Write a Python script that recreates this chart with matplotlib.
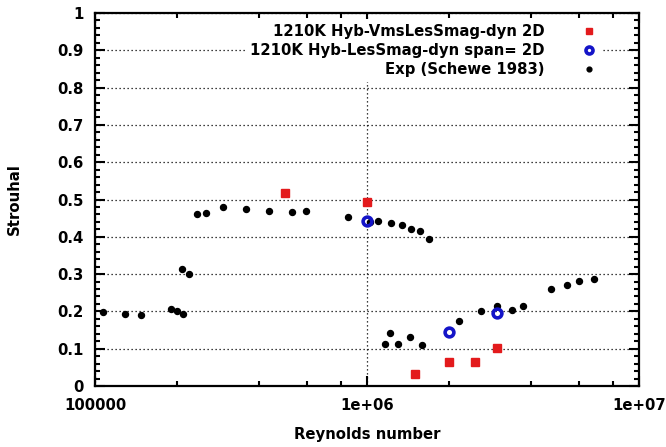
import numpy as np
import matplotlib
matplotlib.use('Agg')
import matplotlib.pyplot as plt
import matplotlib.ticker as plticker

# Strouhal number vs Reynolds number, 2D simulations against Schewe (1983)
vms_re = [5e5, 1e6, 1.5e6, 2e6, 2.5e6, 3e6]
vms_st = [0.518, 0.494, 0.032, 0.064, 0.064, 0.103]

les_re = [1e6, 2e6, 3e6]
les_st = [0.443, 0.146, 0.195]

exp_re = [1.07e5, 1.29e5, 1.48e5, 1.90e5, 2.01e5, 2.11e5, 2.09e5, 2.21e5,
          2.38e5, 2.56e5, 2.95e5, 3.58e5, 4.37e5, 5.28e5, 5.97e5, 8.54e5,
          1.03e6, 1.10e6, 1.23e6, 1.34e6, 1.45e6, 1.56e6, 1.69e6,
          1.16e6, 1.22e6, 1.30e6, 1.44e6, 1.59e6, 2.18e6, 2.62e6, 3.0e6,
          3.42e6, 3.76e6, 4.73e6, 5.45e6, 6.04e6, 6.84e6]
exp_st = [0.199, 0.193, 0.191, 0.206, 0.200, 0.192, 0.315, 0.300,
          0.461, 0.465, 0.481, 0.474, 0.469, 0.467, 0.469, 0.454,
          0.441, 0.443, 0.436, 0.431, 0.420, 0.416, 0.393,
          0.112, 0.141, 0.112, 0.132, 0.109, 0.175, 0.201, 0.214,
          0.204, 0.214, 0.259, 0.271, 0.281, 0.286]

labels = ["1210K Hyb-VmsLesSmag-dyn 2D",
          "1210K Hyb-LesSmag-dyn span= 2D",
          "Exp (Schewe 1983)"]

plt.rcParams['font.family'] = ['DejaVu Sans']
plt.rcParams['font.weight'] = 'bold'
plt.rcParams['axes.labelweight'] = 'bold'
plt.rcParams['font.size'] = 10.7

fig = plt.figure(figsize=(6.66, 4.47), dpi=100)
ax = fig.add_axes([95/666, 61/447, 544/666, 373/447])

ax.plot(vms_re, vms_st, ls='none', marker='s', ms=5.6, color='#e31a1c',
        mec='#e31a1c', label=labels[0], zorder=3)
ax.plot(les_re, les_st, ls='none', marker='o', ms=6.3, mfc='none',
        mec='#1414c8', mew=2.6, label=labels[1], zorder=3)
ax.plot(exp_re, exp_st, ls='none', marker='o', ms=4.3, color='black',
        label=labels[2], zorder=2)

ax.set_xscale('log')
ax.set_xlim(1e5, 1e7)
ax.set_ylim(0, 1)
ax.set_xticks([1e5, 1e6, 1e7])
ax.set_xticklabels(['100000', '1e+06', '1e+07'])
ax.xaxis.set_minor_locator(plticker.LogLocator(base=10, subs=[2, 4, 6, 8]))
ax.xaxis.set_minor_formatter(plticker.NullFormatter())
ax.set_yticks(np.arange(0, 1.01, 0.1))
ax.set_yticklabels(['0', '0.1', '0.2', '0.3', '0.4', '0.5', '0.6', '0.7', '0.8', '0.9', '1'])
ax.yaxis.set_minor_locator(plticker.MultipleLocator(0.02))

ax.tick_params(which='both', direction='in', top=True, right=True, width=1.5)
ax.tick_params(which='major', length=7, pad=8.5)
ax.tick_params(which='minor', length=3.5)
for s in ax.spines.values():
    s.set_linewidth(1.6)

ax.set_axisbelow(True)
ax.grid(True, which='major', color='black', linestyle=(0, (1, 2.2)), linewidth=0.9)

ax.set_xlabel('Reynolds number', labelpad=10)
ax.set_ylabel('Strouhal', labelpad=25)

leg = ax.legend(loc='upper right', bbox_to_anchor=(0.93, 0.983), markerfirst=False,
                numpoints=1, markerscale=0.8, handlelength=1.0, handletextpad=2.5,
                labelspacing=0.29, borderpad=0.3, borderaxespad=0, fancybox=False,
                framealpha=1, facecolor='white', edgecolor='none')

plt.savefig('out.png', dpi=100)
plt.close()
